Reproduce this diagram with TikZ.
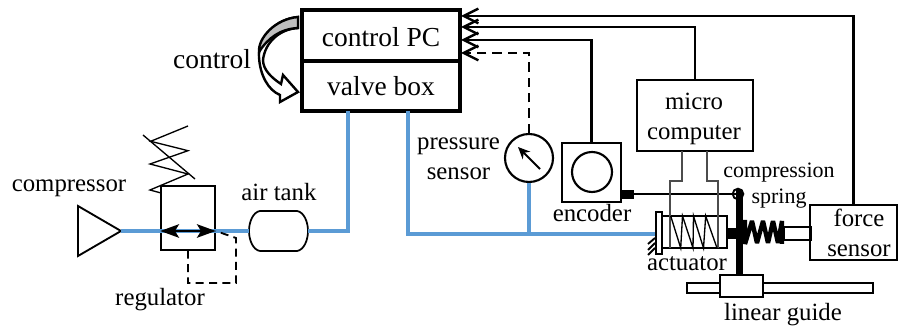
\documentclass[tikz,border=0pt]{standalone}
\usepackage{fontspec}
\setmainfont{Liberation Serif}
\usetikzlibrary{arrows.meta,fit}
\definecolor{pipeblue}{HTML}{5B9BD5}
\tikzset{
  x=0.75pt,y=-0.75pt,
  heavybox/.style={draw,line width=2.7pt,inner sep=0pt},
  medbox/.style={draw,line width=1.6pt,inner sep=0pt},
  thinbox/.style={draw,line width=1.1pt,inner sep=0pt},
  pipe/.style={draw=pipeblue,line width=2.5pt},
  sig/.style={draw,line width=2pt},
  sigarrow/.style={sig,-{Straight Barb[length=11pt,width=11pt,line width=1.8pt]}},
  thinline/.style={draw,line width=1pt},
  greyline/.style={draw=black!70,line width=1.1pt},
  lab/.style={anchor=base,inner sep=0pt,font=\fontsize{18.6pt}{20pt}\selectfont},
  labbig/.style={anchor=base,inner sep=0pt,font=\fontsize{20.6pt}{22pt}\selectfont},
  labsmall/.style={anchor=base,inner sep=0pt,font=\fontsize{16.5pt}{18pt}\selectfont},
}
\begin{document}
\begin{tikzpicture}
\useasboundingbox (0,0) rectangle (899,327);
% nodes
\node[heavybox,fit={(302,10)(460,61)}] (pc) {};
\node[heavybox,fit={(302,61)(460,111)}] (valve) {};
\node[inner sep=0pt,fit={(249,211)(308,251)}] (tank) {};
\node[thinbox,fit={(161,186)(215,250)}] (reg) {};
\node[medbox,circle,minimum size=36pt] (gauge) at (529,158) {};
\node[medbox,fit={(562,143)(621,202)}] (enc) {};
\node[medbox,circle,minimum size=30pt] (disc) at (592,172) {};
\node[medbox,fit={(637,80)(753,151)}] (micro) {};
\node[medbox,fit={(810,205)(897,260)}] (force) {};
\node[thinbox,fit={(662,216)(727,248)}] (act) {};
\node[thinbox,fit={(656,212)(662,254)}] (plate) {};
\node[thinbox,fit={(784,227)(811,240)}] (rod) {};
\node[medbox,fit={(687,283)(873,293)},fill=white] (rail) {};
\node[medbox,fit={(720,275)(763,297)},fill=white] (slider) {};
\node[fill=black,inner sep=0pt,fit={(621,190)(634,199)}] (encshaft) {};
\node[fill=black,inner sep=0pt,fit={(727,228)(737,239)}] (actshaft) {};
\node[draw,circle,line width=1.4pt,minimum size=8pt,inner sep=0pt] (pivot) at (738,194) {};
\node[fill=black,inner sep=0pt,fit={(735.5,190)(742.5,275)}] (post) {};
\coordinate (tri1) at (78,206);
\coordinate (tri2) at (78,256);
\coordinate (trit) at (121,231);
\coordinate (in1) at (461,16);
\coordinate (in2) at (461,27);
\coordinate (in3) at (461,40);
\coordinate (in4) at (461,53);
\coordinate (v1) at (348,111);
\coordinate (v2) at (408,111);
\coordinate (cl) at (348,231);
\coordinate (br) at (408,234);
\coordinate (tee) at (529,234);
% air tank outline
\draw[line width=1.3pt] (260,211) -- (297,211) .. controls (304,212) and (308,222) .. (308,231) .. controls (308,240) and (304,250) .. (297,251) -- (260,251) .. controls (253,250) and (249,240) .. (249,231) .. controls (249,222) and (253,212) .. (260,211) -- cycle;
% compressor
\draw[line width=1.4pt,line join=miter] (tri1) -- (trit) -- (tri2) -- cycle;
% air lines
\draw[pipe] (trit) -- (tank.west);
\draw[pipe] (tank.east) -- (cl) -- (v1);
\draw[pipe] (v2) -- (br) -- (plate.west |- br);
\draw[pipe] (tee) -- (gauge.south);
% regulator
\draw[line width=2.2pt,{Stealth[length=14pt,width=10pt,inset=3pt]}-{Stealth[length=14pt,width=10pt,inset=3pt]}] (reg.west |- trit) -- (reg.east |- trit);
\draw[thinline] (188,126) -- (150.7,141.3) -- (188,150.7) -- (150,164) -- (188,174) -- (150,190) -- (161,193);
\draw[thinline] (143,135) -- (195,179);
\draw[line width=1.4pt,dash pattern=on 6pt off 4pt] (reg.south) -- (188,283) -- (236,283) -- (236,238) -- (reg.east |- trit);
% signals
\draw[sigarrow] (force.north) |- (in1);
\draw[sigarrow] (micro.north) |- (in2);
\draw[sigarrow] (enc.north) |- (in3);
\draw[sigarrow,line width=2.2pt,dash pattern=on 7pt off 4.5pt] (gauge.north) |- (in4);
\draw[-{Stealth[length=9pt,width=8pt]},line width=1.5pt] (540,169) -- (518,147);
% encoder to pivot
\draw[line width=1.5pt] (encshaft.east |- pivot) -- (pivot.center);
% micro computer to actuator
\draw[greyline] (682,151) -- (682,181) -- (670,181) -- (670,248);
\draw[greyline] (707,151) -- (707,181) -- (718,181) -- (718,248);
% actuator internal spring
\draw[thinline] (670.7,216) -- (680.7,248) -- (682.5,216) -- (693,248) -- (693.5,216) -- (703.5,248) -- (705.7,216) -- (717,248);
% hatch
\draw[line width=1.4pt] (655,238) -- (648,244) (655,243) -- (648,250) (655,248) -- (648,255);
% compression spring
\draw[line width=3.3pt,line join=miter,miter limit=3] (745,220) -- (745,244) -- (752,221) -- (757,243) -- (763,221) -- (768,243) -- (773,221) -- (778,243) -- (782,221) -- (782,244);
% control arrow
\draw[line width=1.8pt,fill=white,line join=miter] (298,17) .. controls (275,19) and (258,38) .. (259,57) .. controls (260,75) and (268,90) .. (280,95) -- (280,102) -- (298,92) -- (283,75) -- (281,84) .. controls (272,78) and (263,70) .. (263,60) .. controls (265,42) and (280,29) .. (298,28) -- cycle;
\draw[line width=1.8pt,fill=black!25] (298,17) .. controls (275,19) and (258,38) .. (259,52) .. controls (268,38) and (280,29) .. (298,28) -- cycle;
% labels
\node[labbig] (t1) at (381,47) {control PC};
\node[labbig] (t2) at (381,96) {valve box};
\node[labbig] (t3) at (212,69) {control};
\node[lab] (t4) at (69,192) {compressor};
\node[lab] (t5) at (279,201) {air tank};
\node[lab] (t6) at (160,306) {regulator};
\node[lab] (t7) at (458.5,150) {pressure};
\node[lab] (t8) at (458.5,180) {sensor};
\node[lab] (t9) at (592,222) {encoder};
\node[lab] (t10) at (694,110) {micro};
\node[lab] (t11) at (694,140) {computer};
\node[labsmall] (t12) at (779,178) {compression};
\node[labsmall] (t13) at (779,204) {spring};
\node[lab] (t14) at (687,271) {actuator};
\node[lab] (t15) at (859,227) {force};
\node[lab] (t16) at (859,257) {sensor};
\node[lab] (t17) at (783,321) {linear guide};
\end{tikzpicture}
\end{document}
